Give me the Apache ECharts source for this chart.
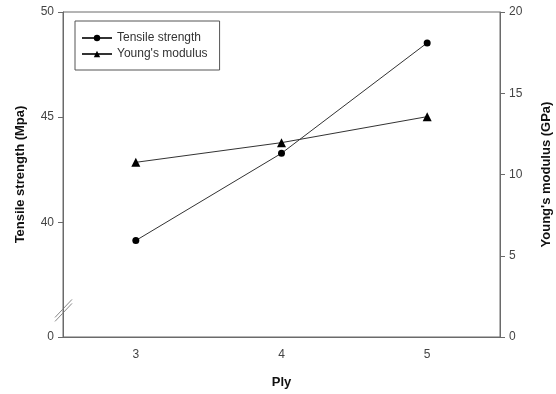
<!DOCTYPE html>
<html><head><meta charset="utf-8">
<script src="https://cdn.jsdelivr.net/npm/echarts@6/dist/echarts.min.js"></script>
<style>html,body{margin:0;padding:0;background:#fff}#c{width:556px;height:394px}</style>
</head><body><div id="c"></div>
<script>
var plies = ['3', '4', '5'];
var tensile = [39.13, 43.28, 48.53];
var youngs = [10.75, 11.96, 13.56];
var leftTicks = [34.54, 40, 45, 50];
var leftMin = 34.54;

var font = 'Arial, "Liberation Sans", sans-serif';
var axisColor = '#6a6a6a';
var labelColor = '#444';
var chart = echarts.init(document.getElementById('c'));
chart.setOption({
  backgroundColor: '#fff',
  animation: false,
  grid: {left: 63, right: 56, top: 12, bottom: 57, show: true, borderColor: axisColor, borderWidth: 1,
    containLabel: false, outerBoundsMode: 'none'},
  legend: {
    left: 75, top: 21, orient: 'vertical', itemWidth: 30, itemHeight: 8, itemGap: 4,
    padding: [11, 12, 10, 6], borderColor: '#555', borderWidth: 1, borderRadius: 0,
    textStyle: {fontFamily: font, fontSize: 12, color: '#333'},
    data: ['Tensile strength', "Young's modulus"]
  },
  xAxis: {
    type: 'category', data: plies, boundaryGap: true,
    name: 'Ply', nameLocation: 'middle', nameGap: 39,
    nameTextStyle: {fontFamily: font, fontSize: 13, fontWeight: 'bold', color: '#111'},
    axisLine: {lineStyle: {color: axisColor}},
    axisTick: {alignWithLabel: true, length: 5, lineStyle: {color: axisColor}},
    axisLabel: {fontFamily: font, fontSize: 12, color: labelColor, margin: 12},
    splitLine: {show: false}
  },
  yAxis: [{
    type: 'value', min: leftMin, max: 50, position: 'left',
    name: 'Tensile strength (Mpa)', nameLocation: 'middle', nameGap: 36,
    nameTextStyle: {fontFamily: font, fontSize: 13, fontWeight: 'bold', color: '#111'},
    axisLine: {show: true, lineStyle: {color: axisColor}},
    axisTick: {show: true, length: 5, lineStyle: {color: axisColor}, customValues: leftTicks},
    axisLabel: {fontFamily: font, fontSize: 12, color: labelColor, margin: 9, customValues: leftTicks,
      formatter: function (v) { return v < 39 ? '0' : String(Math.round(v)); }},
    splitLine: {show: false}
  }, {
    type: 'value', min: 0, max: 20, interval: 5, position: 'right',
    name: "Young's modulus (GPa)", nameLocation: 'middle', nameGap: 40, nameRotate: 90,
    nameTextStyle: {fontFamily: font, fontSize: 13, fontWeight: 'bold', color: '#111'},
    axisLine: {show: true, lineStyle: {color: axisColor}},
    axisTick: {show: true, length: 5, lineStyle: {color: axisColor}},
    axisLabel: {fontFamily: font, fontSize: 12, color: labelColor, margin: 9},
    splitLine: {show: false}
  }],
  series: [{
    name: 'Tensile strength', type: 'line', yAxisIndex: 0, data: tensile,
    symbol: 'circle', symbolSize: 7,
    lineStyle: {color: '#333', width: 1}, itemStyle: {color: '#000'}
  }, {
    name: "Young's modulus", type: 'line', yAxisIndex: 1, data: youngs,
    symbol: 'triangle', symbolSize: 9,
    lineStyle: {color: '#333', width: 1}, itemStyle: {color: '#000'}
  }]
});
// axis break mark on the left axis
var p = chart.convertToPixel({yAxisIndex: 0}, 35.9);
var gx = 63;
chart.setOption({graphic: [
  {type: 'line', shape: {x1: gx - 8, y1: p + 9, x2: gx + 9, y2: p - 9}, style: {stroke: '#888', lineWidth: 1}},
  {type: 'line', shape: {x1: gx - 8, y1: p + 13, x2: gx + 9, y2: p - 5}, style: {stroke: '#888', lineWidth: 1}}
]});
</script>
</body></html>
